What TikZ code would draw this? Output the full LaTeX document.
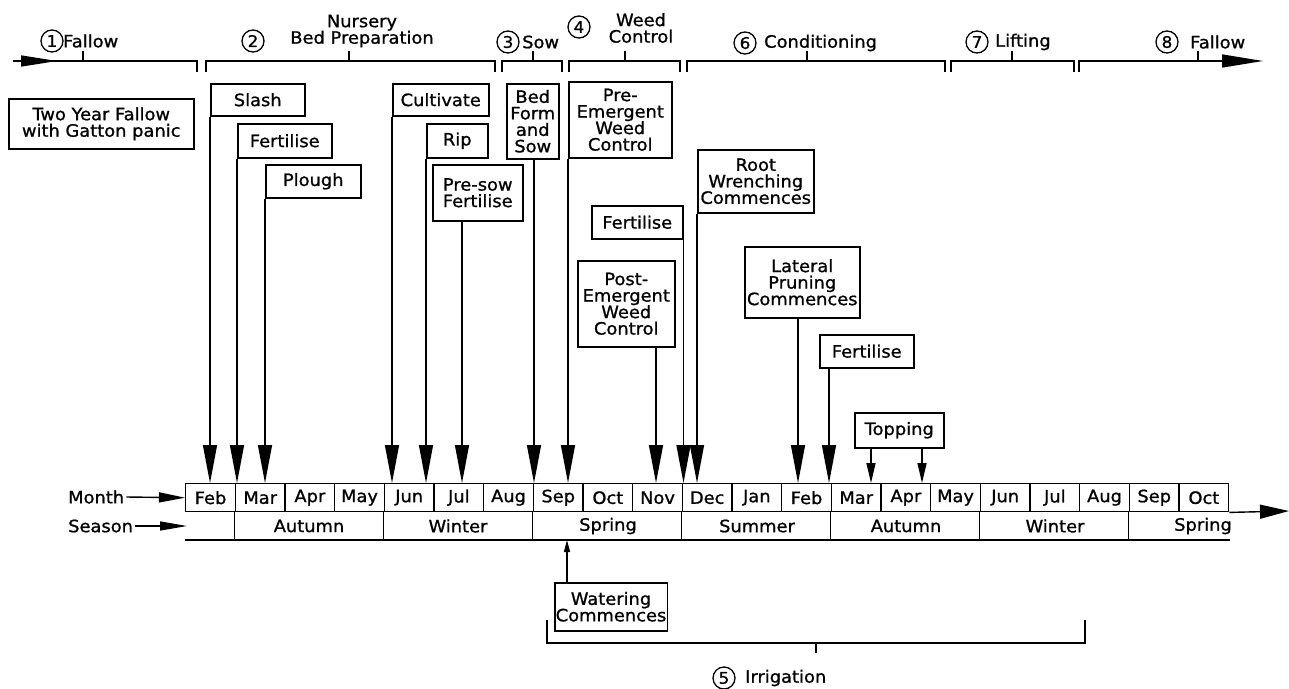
\documentclass[tikz,border=0pt]{standalone}
\usepackage{fontspec}
\newfontfamily\lab[FakeStretch=1.05,FakeBold=1]{DejaVu Sans}
\usetikzlibrary{arrows.meta}
\newcommand{\labfont}{\lab\fontsize{17}{16.5}\selectfont}
\newcommand{\phasebr}[3]{%
  \draw[brk] (#1,72) -- (#1,61) -- (#3,61) -- (#3,72);
  \draw[brk] (#2,61) -- (#2,51);}
\begin{document}
\begin{tikzpicture}[x=1pt,y=-1pt,
  txt/.style={font=\labfont, inner sep=0pt, align=center},
  box/.style={txt, draw, line width=1.5pt, fill=white, inner sep=1pt, anchor=north west},
  cell/.style={txt, draw, line width=1.4pt, minimum width=49.667pt, minimum height=28pt, anchor=north west},
  arr/.style={line width=1.4pt, -{Triangle[length=38pt,width=14pt]}},
  sarr/.style={line width=1.4pt, -{Triangle[length=20pt,width=9pt]}},
  brk/.style={line width=1.5pt},
  cnum/.style={draw, circle, line width=1.3pt, minimum size=22pt, inner sep=0pt, font=\lab\fontsize{16}{16}\selectfont},
]
\useasboundingbox (0,0) rectangle (1289,688);

% ---------- header phases ----------
\draw[brk] (13,61) -- (197,61) -- (197,72);
\draw[brk] (83,61) -- (83,51);
\draw[line width=1.4pt,-{Triangle[length=36pt,width=11pt]}] (13,61) -- (57,61);
\phasebr{206}{349}{495}
\phasebr{502}{533}{562}
\phasebr{569}{625}{680}
\phasebr{687}{807}{945}
\phasebr{951}{1012}{1074}
\draw[line width=1.5pt,-{Triangle[length=41pt,width=13pt]}] (1079,72) -- (1079,61) -- (1263,61);
\draw[brk] (1198,61) -- (1198,51);

\node[cnum] (c1) at (52,41) {1};
\node[txt,anchor=west] (p1) at (63,41) {Fallow};
\node[cnum] (c2) at (253,41) {2};
\node[txt] (p2) at (362,31) {Nursery\\Bed Preparation};
\node[cnum] (c3) at (508,42) {3};
\node[txt,anchor=west] (p3) at (522,42) {Sow};
\node[cnum] (c4) at (579,27) {4};
\node[txt] (p4) at (641,28) {Weed\\Control};
\node[cnum] (c6) at (745,43) {6};
\node[txt,anchor=west] (p6) at (764,43) {Conditioning};
\node[cnum] (c7) at (977,42) {7};
\node[txt,anchor=west] (p7) at (995,42) {Lifting};
\node[cnum] (c8) at (1167,42) {8};
\node[txt,anchor=west] (p8) at (1190,42) {Fallow};

% ---------- month row ----------
\foreach \nm [count=\i] in {Feb,Mar,Apr,May,Jun,Jul,Aug,Sep,Oct,Nov,Dec,Jan,Feb,Mar,Apr,May,Jun,Jul,Aug,Sep,Oct}
  \node[cell] (m\i) at ({185+(\i-1)*49.667},483) {\nm};
\coordinate (mt) at (0,483);
\coordinate (sb) at (0,540);
\coordinate (rend) at (1289,511);
\draw[line width=1.4pt,-{Triangle[length=29pt,width=14pt]}] (m21.south east) -- (rend);

% ---------- season row ----------
\foreach \j in {2,5,8,11,14,17,20}
  \draw[line width=1.4pt] (m\j.south west) -- (m\j.south west |- sb);
\draw[line width=1.8pt] (m1.south west |- sb) -- (1230,540);
\node[txt] (s1) at (309,526) {Autumn};
\node[txt] (s2) at (458,526) {Winter};
\node[txt] (s3) at (608,526) {Spring};
\node[txt] (s4) at (757,526) {Summer};
\node[txt] (s5) at (906,526) {Autumn};
\node[txt] (s6) at (1055,526) {Winter};
\node[txt] (s7) at (1203,526) {Spring};

\node[txt,anchor=west,inner sep=2pt] (monthlab) at (66,497) {Month};
\node[txt,anchor=west,inner sep=2pt] (seasonlab) at (66,526) {Season};
\coordinate (sa) at (187,526);
\draw[line width=1.4pt,-{Triangle[length=26pt,width=10pt]}] (monthlab.east) -- (m1.west);
\draw[line width=1.4pt,-{Triangle[length=27pt,width=9pt]}] (seasonlab.east) -- (sa);

% ---------- boxes ----------
\node[box, minimum width=185pt, minimum height=50pt] (tyf) at (8,98) {Two Year Fallow\\with Gatton panic};
\node[box, minimum width=94pt, minimum height=32pt] (slash) at (210,83) {Slash};
\node[box, minimum width=94pt, minimum height=34pt] (fert1) at (237,123) {Fertilise};
\node[box, minimum width=95pt, minimum height=33pt] (plough) at (265,164) {Plough};
\node[box, minimum width=96pt, minimum height=32pt] (cult) at (392,83) {Cultivate};
\node[box, minimum width=61pt, minimum height=34pt] (rip) at (426,123) {Rip};
\node[box, minimum width=90pt, minimum height=56pt] (psf) at (432,164) {Pre-sow\\Fertilise};
\node[box, minimum width=52pt, minimum height=75pt] (bfs) at (506,83) {Bed\\Form\\and\\Sow};
\node[box, minimum width=103pt, minimum height=76pt] (pem) at (568,81) {Pre-\\Emergent\\Weed\\Control};
\node[box, minimum width=91pt, minimum height=33pt] (fert2) at (591,205) {Fertilise};
\node[box, minimum width=97pt, minimum height=86pt] (post) at (577,260) {Post-\\Emergent\\Weed\\Control};
\node[box, minimum width=116pt, minimum height=63pt] (root) at (697,149) {Root\\Wrenching\\Commences};
\node[box, minimum width=115pt, minimum height=71pt] (lat) at (744,246) {Lateral\\Pruning\\Commences};
\node[box, minimum width=94pt, minimum height=33pt] (fert3) at (819,334) {Fertilise};
\node[box, minimum width=89pt, minimum height=35pt] (top) at (854,412) {Topping};
\node[box, minimum width=109pt, minimum height=48pt] (water) at (554,582) {Watering\\Commences};

% ---------- arrows ----------
\path ([xshift=30pt]psf.south west) coordinate (a6)
      ([xshift=28pt]bfs.south west) coordinate (a7)
      ([xshift=79pt]post.south west) coordinate (a9)
      ([xshift=54pt]lat.south west) coordinate (a11)
      ([xshift=10pt]fert3.south west) coordinate (a12)
      ([xshift=17pt]top.south west) coordinate (a13)
      ([xshift=68pt]top.south west) coordinate (a14)
      ([xshift=13pt]water.north west) coordinate (a15);
\draw[arr] (slash.south west) -- (slash.south west |- mt);
\draw[arr] (fert1.south west) -- (fert1.south west |- mt);
\draw[arr] (plough.south west) -- (plough.south west |- mt);
\draw[arr] (cult.south west) -- (cult.south west |- mt);
\draw[arr] (rip.south west) -- (rip.south west |- mt);
\draw[arr] (a6) -- (a6 |- mt);
\draw[arr] (a7) -- (a7 |- mt);
\draw[arr] (pem.south west) -- (pem.south west |- mt);
\draw[arr] (fert2.south east) -- (fert2.south east |- mt);
\draw[arr] (a9) -- (a9 |- mt);
\draw[arr] (root.south west) -- (root.south west |- mt);
\draw[arr] (a11) -- (a11 |- mt);
\draw[arr] (a12) -- (a12 |- mt);
\draw[sarr] (a13) -- (a13 |- mt);
\draw[sarr] (a14) -- (a14 |- mt);
\draw[line width=1.4pt,-{Triangle[length=12pt,width=6pt]}] (a15) -- (a15 |- sb);

% ---------- irrigation ----------
\draw[brk] (547,620) -- (547,643) -- (1085,643) -- (1085,620);
\draw[brk] (816,643) -- (816,653);
\node[cnum] (c5) at (724,678) {5};
\node[txt,anchor=west] (p5) at (745,678) {Irrigation};
\end{tikzpicture}
\end{document}
